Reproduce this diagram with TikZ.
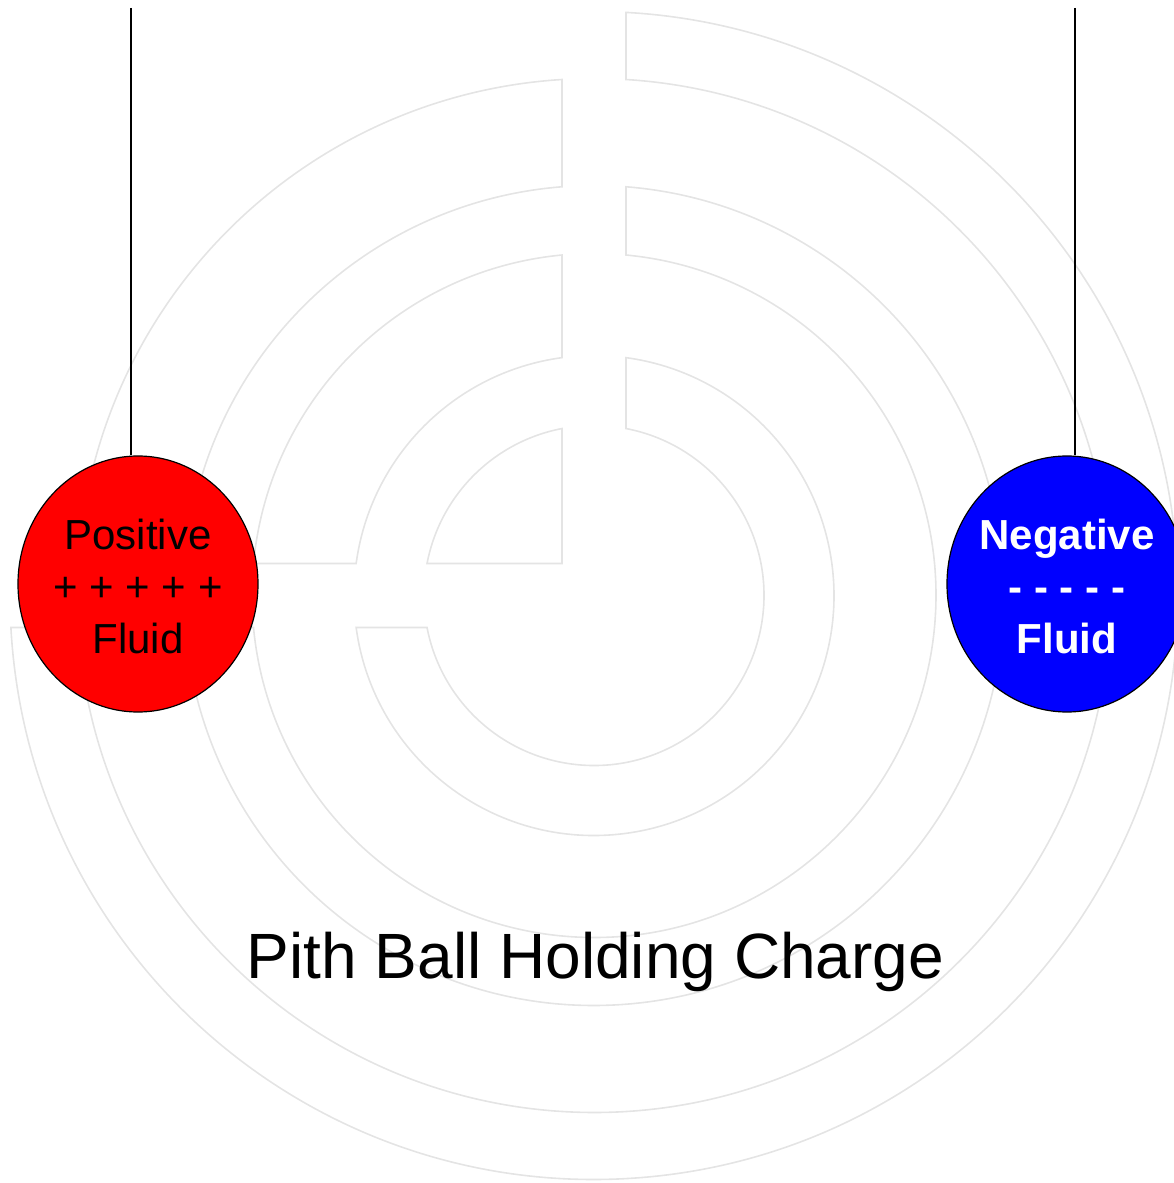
\documentclass[tikz,border=0pt]{standalone}
\usepackage{fontspec}
\setmainfont{Liberation Sans}
\usepackage{tikz}
\usetikzlibrary{shapes.geometric}
\definecolor{mazegray}{RGB}{228,228,228}

\begin{document}
\begin{tikzpicture}[x=1pt, y=1pt]
        \tikzset{wall/.style = {draw=mazegray, line width=1.6pt, line join=miter}}
        \tikzset{ball/.style = {shape=ellipse, draw, line width=1.2pt, minimum width=240pt, minimum height=256pt, inner sep=0pt}}
        \tikzset{balltext/.style = {align=center, font=\fontsize{42}{52}\selectfont}}
        \tikzset{cord/.style = {line width=1.2pt}}
        \useasboundingbox (-594,-587.5) rectangle (579,595.5);

        % maze, upper left pieces
        \draw[wall] (-32,32) -- ({90+asin(32/170)}:170pt)
            arc[start angle={90+asin(32/170)}, end angle={180-asin(32/170)}, radius=170pt] -- cycle;
        \foreach \ri/\ro in {240/342, 410/517}
            \draw[wall] ({90+asin(32/\ro)}:\ro pt) -- ({90+asin(32/\ri)}:\ri pt)
                arc[start angle={90+asin(32/\ri)}, end angle={180-asin(32/\ri)}, radius=\ri pt]
                -- ({180-asin(32/\ro)}:\ro pt)
                arc[start angle={180-asin(32/\ro)}, end angle={90+asin(32/\ro)}, radius=\ro pt] -- cycle;
        % maze, wrapping pieces
        \foreach \ri/\ro in {170/240, 342/410, 517/584}
            \draw[wall] ({90-asin(32/\ro)}:\ro pt) -- ({90-asin(32/\ri)}:\ri pt)
                arc[start angle={90-asin(32/\ri)}, end angle={-180+asin(32/\ri)}, radius=\ri pt]
                -- ({-180+asin(32/\ro)}:\ro pt)
                arc[start angle={-180+asin(32/\ro)}, end angle={90-asin(32/\ro)}, radius=\ro pt] -- cycle;

        % balls
        \node[ball, fill=red] (pos) at (-456,11.5) {};
        \node[ball, fill=blue] (neg) at (473,11.5) {};
        \node[balltext] (postext) at ([yshift=-2]pos) {Positive\\+ + + + +\\Fluid};
        \node[balltext, text=white, font=\fontsize{42}{52}\selectfont\bfseries] (negtext) at ([yshift=-2]neg) {Negative\\- - - - -\\Fluid};

        % strings
        \coordinate (postop) at (-463,587.5);
        \coordinate (negtop) at (481,587.5);
        \draw[cord] (postop) -- (postop |- pos.north);
        \draw[cord] (negtop) -- (negtop |- neg.north);

        % title
        \node[anchor=base, font=\fontsize{64}{70}\selectfont] (title) at (1.5,-382.5) {Pith Ball Holding Charge};
\end{tikzpicture}
\end{document}
